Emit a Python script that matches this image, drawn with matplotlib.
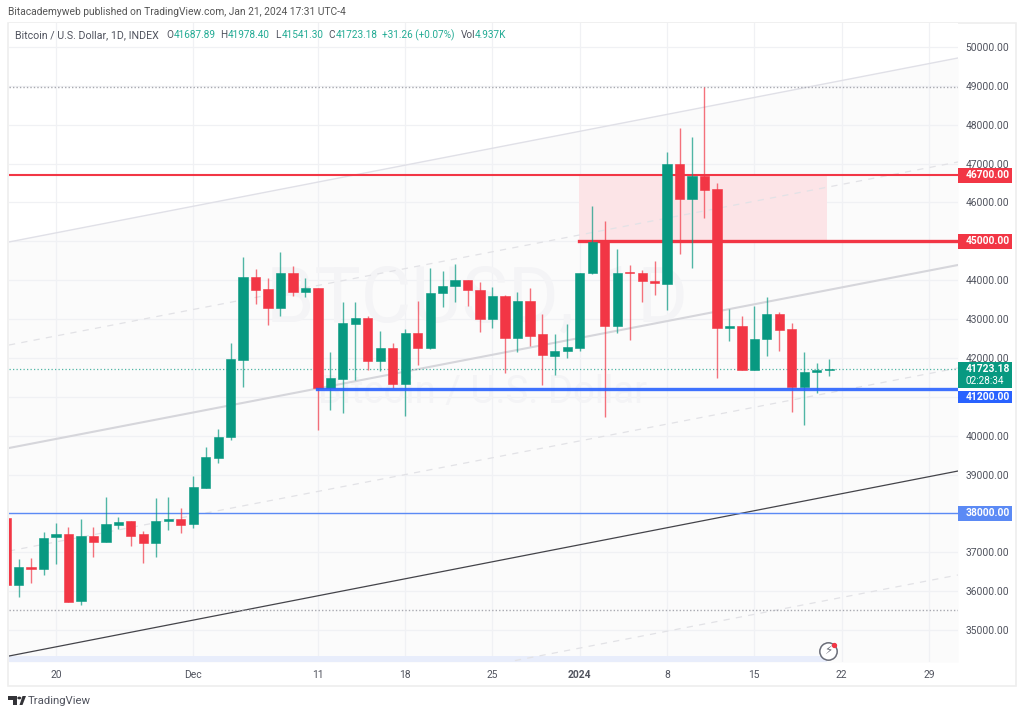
import matplotlib
matplotlib.use('Agg')
import matplotlib.pyplot as plt
import matplotlib.transforms as mtrans
from matplotlib.patches import Rectangle, Polygon
import numpy as np

plt.rcParams['font.family'] = ['Roboto', 'DejaVu Sans']

W, H = 1024, 716
GREEN = '#089981'
RED = '#f23645'
BLUE = '#2962ff'

# days counted from Nov 20, first candle is Nov 16
first_day = -4
opens = [37890, 36157, 36630, 36570, 37385, 37460, 35745, 37420, 37270, 37710, 37795, 37460, 37230, 37805, 37855,
         37720, 38660, 39430, 39970, 41945, 44090, 43775, 43280, 44195, 43690, 43800, 41225, 41455, 42865, 43030,
         41930, 42250, 41330, 42650, 42250, 43665, 43850, 44015, 43750, 43000, 43600, 42505, 43465, 42610, 42060, 42165,
         42250, 44175, 44975, 42830, 44205, 44175, 43975, 43900, 46985, 46100, 46680, 46340, 42760, 42830, 41680, 42480,
         43130, 42735, 41260, 41625, 41687.89]
closes = [36157, 36630, 36570, 37375, 37460, 35730, 37420, 37270, 37725, 37785, 37420, 37230, 37815, 37865, 37690,
          38670, 39450, 39960, 41965, 44090, 43755, 43280, 44180, 43690, 43800, 41225, 41475, 42890, 43020, 41930,
          42250, 41330, 42650, 42265, 43665, 43860, 44015, 43740, 43000, 43600, 42505, 43465, 42565, 42085, 42165, 42275,
          44195, 44975, 42830, 44195, 44175, 43975, 43920, 46985, 46100, 46680, 46320, 42760, 42830, 41680, 42495, 43130,
          42720, 41260, 41630, 41690, 41723.18]
highs = [37890, 36820, 36845, 37530, 37745, 37658, 37855, 37640, 38430, 37900, 37795, 37545, 38390, 38430, 38145,
         38960, 39720, 40170, 42375, 44605, 44280, 44055, 44720, 44365, 44050, 43800, 42145, 43450, 43430, 43080,
         42690, 42375, 42735, 43465, 44305, 44235, 44415, 44015, 43945, 43815, 43620, 43690, 43790, 43130, 42610, 42865,
         44195, 45920, 45525, 44795, 44395, 44260, 44500, 47290, 47905, 47680, 48970, 46510, 43250, 43080, 43335, 43575,
         43170, 42890, 42160, 41870, 41978.40]
lows = [36157, 35860, 36215, 36415, 36700, 35730, 35640, 36885, 37270, 37600, 37150, 36715, 36885, 37570, 37490,
        37630, 38660, 39290, 39890, 41260, 43385, 42850, 43090, 43600, 43575, 40145, 40660, 40595, 41430, 41690,
        41655, 41235, 40515, 41815, 42225, 43320, 43445, 43335, 42675, 42760, 41620, 42155, 42305, 41310, 41555, 41990,
        42185, 44170, 40490, 42650, 42460, 43445, 43620, 43230, 44665, 44305, 45590, 41490, 42430, 41680, 41680, 42050,
        42185, 40620, 40275, 41090, 41541.30]

x_ticks = [0, 11, 21, 28, 35, 42, 49, 56, 63, 70]
x_labels = ['20', 'Dec', '11', '18', '25', '2024', '8', '15', '22', '29']
y_ticks = list(range(35000, 50001, 1000))
y_hidden = [41000]  # sits under the 41200 tag

# trend channel, (day, price) at both ends
line_days = [-3.77, 72.33]
ch_top = [44983, 49717]
ch_dash_up = [42332, 47041]
ch_mid = [39682, 44391]
ch_dash_low = [37032, 41741]
ch_black = [34330, 39090]
ch_last_days = [36.8, 72.33]
ch_last = [34212, 36415]

res_top = 46700
res_low = 45000
sup_thick = 41200
sup_thin = 38000
dotted_levels = [48960, 35510]
last_price = 41723.18
zone_days = [41.9, 61.85]
level_start = 41.9
sup_start = 20.9

def px(x, y):
    return x / W, 1 - y / H

fig = plt.figure(figsize=(W / 100, H / 100), dpi=100, facecolor='white')
ax = fig.add_axes([9 / W, 1 - 662 / H, 949 / W, 639 / H])
ax.set_xlim(-3.77, 72.33)
ax.set_ylim(34176, 50617)
for s in ax.spines.values():
    s.set_visible(False)

ax.set_xticks(x_ticks)
ax.set_xticklabels(x_labels)
ax.set_yticks(y_ticks)
ax.set_yticklabels(['' if v in y_hidden else '%.2f' % v for v in y_ticks])
ax.yaxis.tick_right()
ax.tick_params(axis='y', length=0, pad=5.6, labelsize=7.4, labelcolor='#50535e')
ax.tick_params(axis='x', length=0, pad=6, labelsize=7.4, labelcolor='#50535e')
ax.get_xticklabels()[5].set_fontweight('bold')
ax.grid(True, color='#f0f1f4', lw=0.9, zorder=0)
ax.set_axisbelow(True)

# outer frame
fig.add_artist(Rectangle(px(8, 686), 1008 / W, 663 / H, transform=fig.transFigure,
                         fc='none', ec='#eeeeee', lw=1.2, zorder=-1))

# channel fill, white above the top line
ax.fill_between(line_days, ch_top, 34176, color='#fbfbfb', lw=0, zorder=0.5)
ax.grid(True, color='#f0f1f4', lw=0.9)

# watermark
ax.text(33.8, 43500, 'BTCUSD, 1D', fontsize=56, color='#f4f4f6', ha='center', va='center', zorder=1)
ax.text(34.2, 41100, 'Bitcoin / U.S. Dollar', fontsize=27.5, color='#f4f4f6', ha='center', va='center', zorder=1)

# zone
ax.fill_between(zone_days, res_low, res_top, color='#fce4e7', lw=0, zorder=1.2)
ax.add_patch(Rectangle((-3.77, 34176), 65.6, 160, fc='#e8edfb', ec='none', zorder=1.3))

# channel lines
ax.plot(line_days, ch_top, color='#e0e0e7', lw=1.0, zorder=2)
ax.plot(line_days, ch_dash_up, color='#e2e2e6', lw=0.9, ls=(0, (5, 5)), zorder=2)
ax.plot(line_days, ch_mid, color='#d6d6db', lw=1.5, zorder=2)
ax.plot(line_days, ch_dash_low, color='#e2e2e6', lw=0.9, ls=(0, (5, 5)), zorder=2)
ax.plot(line_days, ch_black, color='#44444a', lw=0.9, zorder=2)
ax.plot(ch_last_days, ch_last, color='#e2e2e6', lw=0.9, ls=(0, (5, 5)), zorder=2)

# levels
for lv in dotted_levels:
    ax.axhline(lv, color='#a8a9b0', lw=1, ls=(0, (1, 1.5)), zorder=2)
ax.axhline(last_price, color=GREEN, lw=0.9, ls=(0, (1, 1.8)), alpha=0.7, zorder=2)
ax.axhline(res_top, color=RED, lw=1.5, zorder=2.5)
ax.plot([level_start, 72.33], [res_low, res_low], color=RED, lw=2.4, zorder=2.5)
ax.plot([sup_start, 72.33], [sup_thick, sup_thick], color=BLUE, lw=2.4, alpha=0.9, zorder=4)
ax.axhline(sup_thin, color='#5b8af5', lw=1, zorder=2.5)

# candles
days = first_day + np.arange(len(opens))
o = np.array(opens)
c = np.array(closes)
colors = [GREEN if cc >= oo else RED for oo, cc in zip(o, c)]
ax.vlines(days, lows, highs, colors=colors, lw=1.0, alpha=0.7, zorder=3)
ax.bar(days, np.abs(c - o), bottom=np.minimum(o, c), width=0.74, color=colors,
       edgecolor=colors, lw=0.4, zorder=3.2)

# price tags on the right axis
blend = mtrans.blended_transform_factory(ax.transAxes, ax.transData)
def tag(price, color, label, top=190, bottom=190):
    ax.add_patch(Rectangle((1, price - bottom), 54 / 949, top + bottom, transform=blend,
                           fc=color, ec='none', clip_on=False, zorder=6))
    ax.annotate(label, xy=(1, price), xycoords=blend, xytext=(5.6, 0), textcoords='offset points',
                color='white', fontsize=7.4, fontweight='bold', va='center', ha='left', zorder=7,
                annotation_clip=False)

tag(res_top, RED, '46700.00')
tag(res_low, RED, '45000.00')
tag(last_price, GREEN, '41723.18', top=172, bottom=497)
ax.annotate('02:28:34', xy=(1, last_price - 327), xycoords=blend, xytext=(5.6, 0), textcoords='offset points',
            color='white', fontsize=7.2, va='center', ha='left', zorder=7, annotation_clip=False)
tag(sup_thick - 200, BLUE, '41200.00', top=155, bottom=155)
tag(sup_thin, '#5b8af5', '38000.00')

# lightning icon
ax.plot([61.9], [34459], 'o', ms=12.5, mfc='white', mec='#6a6d78', mew=1.1, zorder=5)
ax.plot([62.4], [34620], 'o', ms=2.8, color=RED, zorder=6)
ax.text(61.9, 34459, '\u26a1', family=['DejaVu Sans'], fontsize=8.5, color='#6a6d78', ha='center', va='center', zorder=6)

# header texts
fig.text(*px(8, 12), 'Bitacademyweb published on TradingView.com, Jan 21, 2024 17:31 UTC-4',
         fontsize=7.4, color='#555555', va='center')
fig.text(*px(15, 35), 'Bitcoin / U.S. Dollar, 1D, INDEX', fontsize=7.7, color='#50535e', va='center')
ohlc_text = [(166, 'O', '41687.89'), (220, 'H', '41978.40'), (275, 'L', '41541.30'), (328, 'C', '41723.18')]
for xp, name, val in ohlc_text:
    fig.text(*px(xp, 35), name, fontsize=7.2, color='#50535e', va='center')
    fig.text(*px(xp + (7 if name == 'L' else 8), 35), val, fontsize=7.2, color='#22ab94', va='center')
fig.text(*px(382, 35), '+31.26 (+0.07%)', fontsize=7.2, color='#22ab94', va='center')
fig.text(*px(461, 35), 'Vol', fontsize=7.2, color='#50535e', va='center')
fig.text(*px(475, 35), '4.937K', fontsize=7.2, color='#22ab94', va='center')

# TradingView logo
logo = '#333338'
for pts in ([(8, 696), (17, 696), (17, 705), (13, 705), (13, 700), (8, 700)],
            [(19.5, 705), (22.5, 696), (26, 696), (22.5, 705)]):
    fig.add_artist(Polygon([px(*p) for p in pts], closed=True, transform=fig.transFigure, fc=logo, ec='none'))
fig.add_artist(plt.Circle(px(19.3, 698), 2 / W, transform=fig.transFigure, fc=logo, ec='none'))
fig.text(*px(28, 701), 'TradingView', fontsize=8.2, color='#50535e', va='center')

fig.savefig('out.png', dpi=100)
